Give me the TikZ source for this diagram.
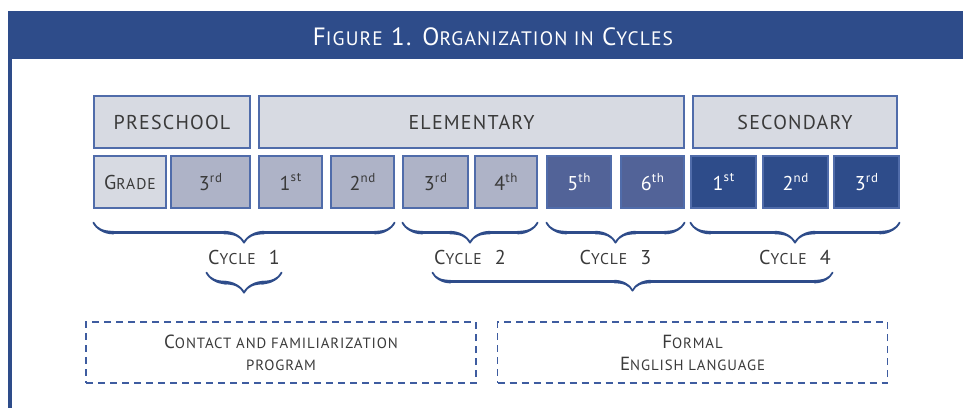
\documentclass[tikz,border=0pt]{standalone}
\usepackage{graphicx}
\usepackage{fontspec}
\setmainfont[LetterSpace=6]{PT Sans}
\usetikzlibrary{decorations.pathreplacing,calligraphy}

\definecolor{figblue}{RGB}{46,76,138}
\definecolor{cellline}{RGB}{80,108,170}
\definecolor{palefill}{RGB}{215,218,226}
\definecolor{midfill}{RGB}{174,179,199}
\definecolor{deepfill}{RGB}{82,99,152}
\definecolor{textgray}{RGB}{58,58,58}
\definecolor{dashblue}{RGB}{62,92,160}

% fake small capitals and ordinals
\newcommand\lowcaps[1]{\scalebox{0.78}{\MakeUppercase{#1}}}
\newcommand\ordn[2]{#1\raisebox{0.42em}{\fontsize{13}{13}\selectfont #2}}

\tikzset{cell/.style={draw=cellline, line width=1.2pt, minimum height=52pt, inner sep=0pt, text=textgray, font=\fontsize{20}{22}\selectfont},
         pale/.style={cell, fill=palefill},
         mid/.style={cell, fill=midfill},
         deep/.style={cell, fill=deepfill, text=white},
         dark/.style={cell, fill=figblue, text=white},
         cycbrace/.style={decorate, decoration={calligraphic brace, amplitude=20pt, mirror}, pen colour=figblue, line width=3.5pt},
         cyclabel/.style={anchor=base, yshift=-42pt, inner sep=0pt, text=textgray, font=\fontsize{20}{22}\selectfont},
         stagebox/.style={draw=dashblue, dashed, dash pattern=on 7pt off 5pt, line width=1.3pt, minimum width=390pt, minimum height=61pt, align=center, text=textgray, font=\fontsize{19}{22}\selectfont}}

\begin{document}
\begin{tikzpicture}[x=1pt,y=1pt]

\useasboundingbox (0,0) rectangle (963,408);

% title band and frame
\fill[figblue] (8,349) rectangle (963,397);
\fill[figblue] (8,0) rectangle (12,349);
\node[text=white, font=\fontsize{25}{27}\selectfont] (title) at (493,371) {F\lowcaps{igure} 1. O\lowcaps{rganization in} C\lowcaps{ycles}};

% school levels
\node[pale, minimum width=156pt] (pre) at (172,286) {PRESCHOOL};
\node[pale, minimum width=425pt] (elem) at (471.5,286) {ELEMENTARY};
\node[pale, minimum width=204pt] (sec) at (795,286) {SECONDARY};

% grades
\node[pale, minimum width=72pt] (grade) at (130,226) {G\lowcaps{rade}};
\node[mid, minimum width=79pt] (p3) at (210.5,226) {\ordn{3}{rd}};
\node[mid, minimum width=63pt] (e1) at (290.5,226) {\ordn{1}{st}};
\node[mid, minimum width=63pt] (e2) at (362.5,226) {\ordn{2}{nd}};
\node[mid, minimum width=65pt] (e3) at (435.5,226) {\ordn{3}{rd}};
\node[mid, minimum width=62pt] (e4) at (506,226) {\ordn{4}{th}};
\node[deep, minimum width=64pt] (e5) at (579,226) {\ordn{5}{th}};
\node[deep, minimum width=63pt] (e6) at (652.5,226) {\ordn{6}{th}};
\node[dark, minimum width=65pt] (s1) at (723.5,226) {\ordn{1}{st}};
\node[dark, minimum width=65pt] (s2) at (795.5,226) {\ordn{2}{nd}};
\node[dark, minimum width=65pt] (s3) at (866.5,226) {\ordn{3}{rd}};

% cycles
\draw[cycbrace] ([yshift=-14pt]grade.south west) -- node[cyclabel] (cyc1) {C\lowcaps{ycle}~~1} ([yshift=-14pt]e2.south east);
\draw[cycbrace] ([yshift=-14pt]e3.south west) -- node[cyclabel] (cyc2) {C\lowcaps{ycle}~~2} ([yshift=-14pt]e4.south east);
\draw[cycbrace] ([yshift=-14pt]e5.south west) -- node[cyclabel] (cyc3) {C\lowcaps{ycle}~~3} ([yshift=-14pt]e6.south east);
\draw[cycbrace] ([yshift=-14pt]s1.south west) -- node[cyclabel] (cyc4) {C\lowcaps{ycle}~~4} ([yshift=-14pt]s3.south east);

% stages
\draw[cycbrace] ([yshift=-8pt]cyc1.base west) -- ([yshift=-8pt]cyc1.base east);
\draw[cycbrace, decoration={amplitude=18pt}] ([yshift=-8pt]cyc2.base west) -- ([yshift=-8pt]cyc4.base east);

\node[stagebox] (contact) at (281,55.5) {C\lowcaps{ontact and familiarization}\\\lowcaps{program}};
\node[stagebox] (formal) at (692.5,55.5) {F\lowcaps{ormal}\\E\lowcaps{nglish language}};

\end{tikzpicture}
\end{document}
